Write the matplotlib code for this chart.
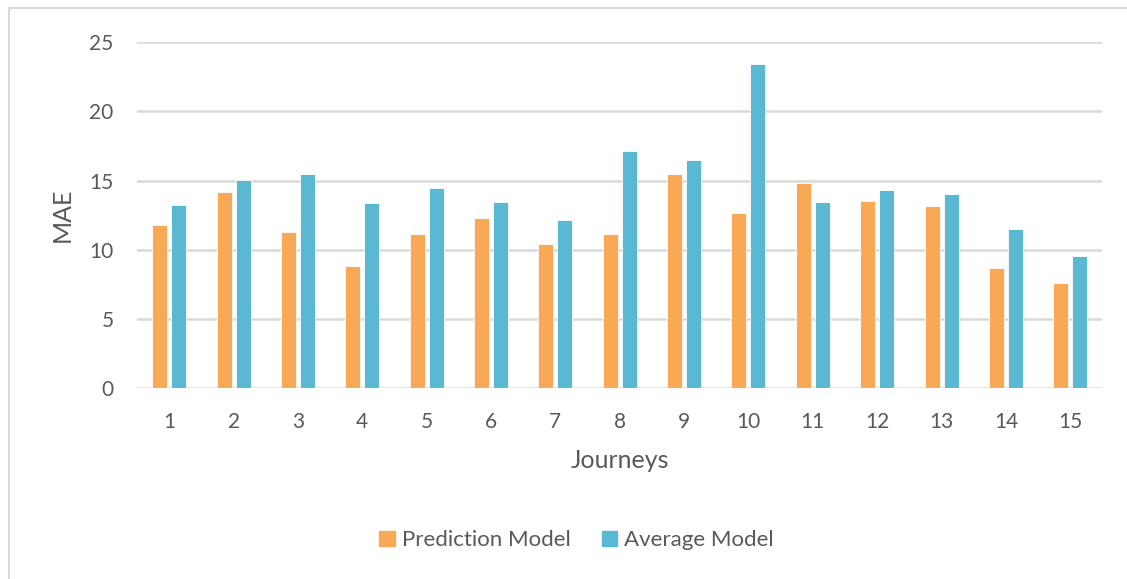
import numpy as np
import matplotlib
matplotlib.use("Agg")
import matplotlib.pyplot as plt
from matplotlib.lines import Line2D
from matplotlib.patches import Patch

# MAE per journey for both models
journeys = [str(i) for i in range(1, 16)]
prediction_mae = [11.8, 14.2, 11.3, 8.8, 11.1, 12.3, 10.4, 11.1, 15.45, 12.65,
                  14.85, 13.55, 13.15, 8.7, 7.6]
average_mae = [13.25, 15.05, 15.45, 13.4, 14.45, 13.45, 12.15, 17.15, 16.5, 23.4,
               13.45, 14.3, 14.0, 11.5, 9.55]

orange = "#F9A856"
blue = "#5BB8D2"
grid_c = "#D9D9D9"
text_c = "#595959"

plt.rcParams["font.family"] = ["Lato", "DejaVu Sans"]

fig = plt.figure(figsize=(11.27, 5.79), dpi=100)
ax = fig.add_axes([0.1216, 0.330, 0.8566, 0.597])

x = np.arange(1, len(journeys) + 1)
w = 0.233
off = 0.148
ax.bar(x - off, prediction_mae, w, color=orange, edgecolor="white", linewidth=0.6, zorder=3)
ax.bar(x + off, average_mae, w, color=blue, edgecolor="white", linewidth=0.6, zorder=3)

ax.set_xlim(0.5, len(journeys) + 0.5)
ax.set_ylim(0, 25)
ax.set_yticks(range(0, 26, 5))
ax.set_xticks(x)
ax.set_xticklabels(journeys)
ax.yaxis.grid(True, color=grid_c, linewidth=1.8, zorder=0)
ax.set_axisbelow(True)
for s in ax.spines.values():
    s.set_visible(False)
ax.tick_params(axis="both", length=0, labelsize=15, colors=text_c)
ax.tick_params(axis="y", pad=17)
ax.tick_params(axis="x", pad=17)

ax.set_ylabel("MAE", fontsize=18, color=text_c)
ax.yaxis.set_label_coords(-0.066, 0.5)
ax.set_xlabel("Journeys", fontsize=18, color=text_c, va="center")
ax.xaxis.set_label_coords(0.5, -0.211)

handles = [Patch(color=orange, label="Prediction Model"),
           Patch(color=blue, label="Average Model")]
leg = fig.legend(handles=handles, loc="center", bbox_to_anchor=(0.5115, 0.067), ncol=2,
                 frameon=False, fontsize=16, handlelength=0.7, handleheight=0.7,
                 handletextpad=0.3, columnspacing=1.4)
for t in leg.get_texts():
    t.set_color(text_c)

# chart-area border along the left and top edges
fig.add_artist(Line2D([9 / 1127, 9 / 1127], [0, 1 - 8 / 579], transform=fig.transFigure,
                      color=grid_c, linewidth=1.5))
fig.add_artist(Line2D([9 / 1127, 1], [1 - 8 / 579, 1 - 8 / 579], transform=fig.transFigure,
                      color=grid_c, linewidth=1.5))

fig.savefig("out.png", dpi=100, facecolor="white")
